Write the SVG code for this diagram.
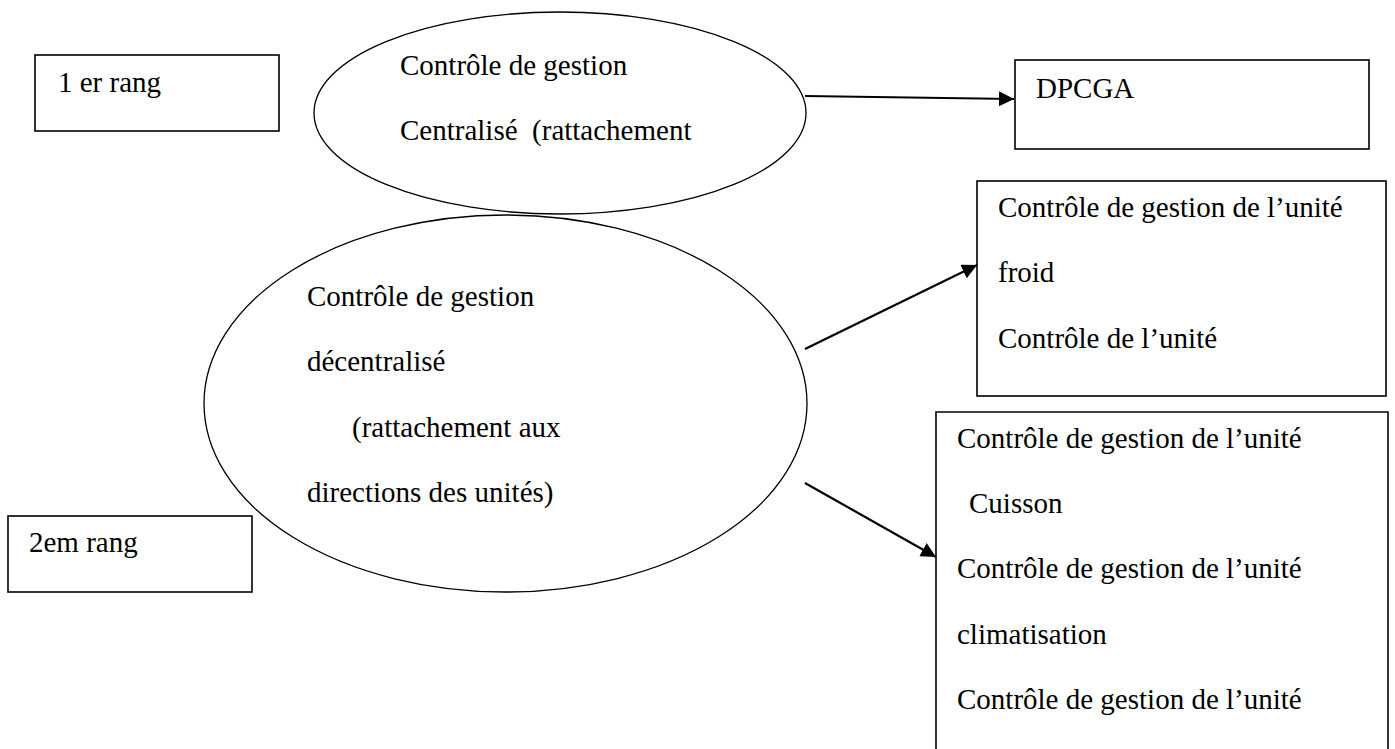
<svg xmlns="http://www.w3.org/2000/svg" width="1395" height="749" viewBox="0 0 1395 749">
<style>
  .box{fill:#fff;stroke:#000;stroke-width:1.6}
  .ell{fill:#fff;stroke:#000;stroke-width:1.3}
  .t{font-family:"Liberation Serif","Times New Roman",serif;font-size:29px;fill:#000}
  .con{stroke:#000;stroke-width:2.2;fill:none}
</style>
<defs>
  <marker id="ah" markerUnits="userSpaceOnUse" markerWidth="16" markerHeight="16" refX="15" refY="7.5" orient="auto">
    <path d="M0,0 L15,7.5 L0,15 Z" fill="#000"/>
  </marker>
</defs>
<rect width="1395" height="749" fill="#fff"/>
<g id="rang1">
  <rect class="box" x="35" y="55" width="244" height="76"/>
  <text class="t" x="58" y="92">1 er rang</text>
</g>
<g id="centralise">
  <ellipse class="ell" cx="560" cy="113" rx="246" ry="101"/>
  <text class="t" x="400" y="75">Contrôle de gestion</text>
  <text class="t" x="400" y="140" xml:space="preserve">Centralisé  (rattachement</text>
</g>
<g id="decentralise">
  <ellipse class="ell" cx="505.5" cy="403.5" rx="301.5" ry="188.5"/>
  <text class="t" x="307" y="306">Contrôle de gestion</text>
  <text class="t" x="307" y="371">décentralisé</text>
  <text class="t" x="352" y="437">(rattachement aux</text>
  <text class="t" x="307" y="502">directions des unités)</text>
</g>
<g id="rang2">
  <rect class="box" x="8" y="516" width="244" height="76"/>
  <text class="t" x="29" y="552">2em rang</text>
</g>
<g id="dpcga">
  <rect class="box" x="1015" y="60" width="354" height="89"/>
  <text class="t" x="1036" y="98">DPCGA</text>
</g>
<g id="froid">
  <rect class="box" x="977" y="181" width="409" height="215"/>
  <text class="t" x="998" y="217">Contrôle de gestion de l’unité</text>
  <text class="t" x="998" y="282">froid</text>
  <text class="t" x="998" y="348">Contrôle de l’unité</text>
</g>
<g id="unites">
  <path class="box" d="M936,760 V412 H1388 V760"/>
  <text class="t" x="957" y="448">Contrôle de gestion de l’unité</text>
  <text class="t" x="969" y="513">Cuisson</text>
  <text class="t" x="957" y="578">Contrôle de gestion de l’unité</text>
  <text class="t" x="957" y="644">climatisation</text>
  <text class="t" x="957" y="709">Contrôle de gestion de l’unité</text>
</g>
<g id="connectors">
  <line class="con" x1="805" y1="96" x2="1014" y2="99" marker-end="url(#ah)"/>
  <line class="con" x1="805" y1="349" x2="977" y2="265" marker-end="url(#ah)"/>
  <line class="con" x1="805" y1="483" x2="936" y2="557" marker-end="url(#ah)"/>
</g>
</svg>
